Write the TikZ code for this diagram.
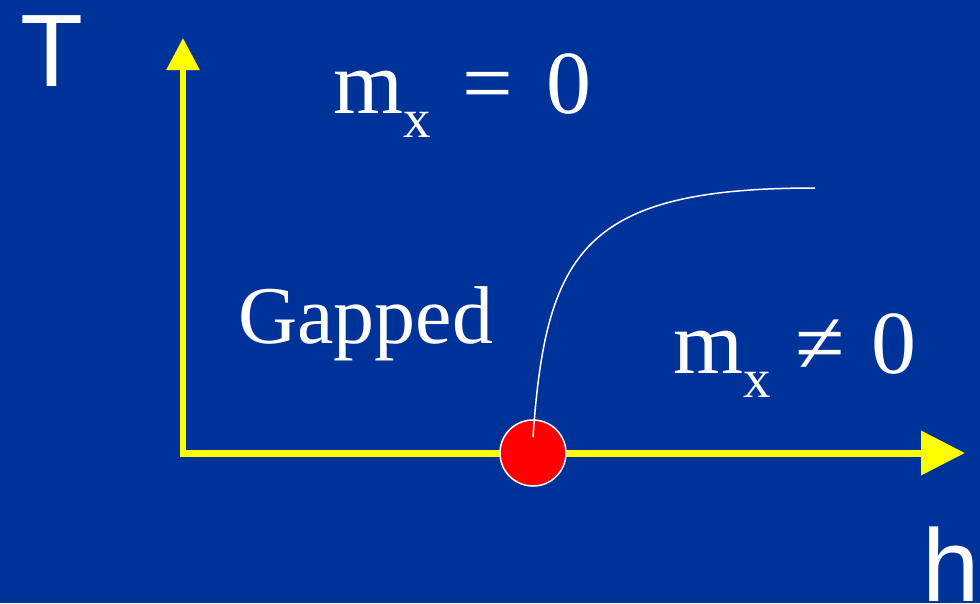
\documentclass[tikz,border=0pt]{standalone}
\usepackage{fontspec}
\setmainfont{Liberation Serif}
\newfontfamily\axfont{Liberation Sans}
\usetikzlibrary{arrows.meta}
\definecolor{bgblue}{HTML}{003399}
\definecolor{axyellow}{HTML}{FFFF00}
\tikzset{
  axisline/.style={draw=axyellow, line width=6pt},
  axlabel/.style={text=white, font=\axfont\fontsize{103}{103}\selectfont, inner sep=0pt, anchor=base west},
  serlabel/.style={text=white, inner sep=0pt, anchor=base west},
  critpt/.style={circle, fill=red, draw=white, line width=1.5pt, minimum size=66pt, inner sep=0pt},
}
\newcommand{\subx}{\raisebox{-24pt}{\fontsize{55}{55}\selectfont x}}
\begin{document}
\begin{tikzpicture}[x=1pt,y=-1pt]
\fill[bgblue] (0,0) rectangle (980,603);
\useasboundingbox (0,0) rectangle (980,603);
\coordinate (O) at (183,453);
\coordinate (Ttip) at (183,38);
\coordinate (Htip) at (965,453);
\draw[axisline, -{Triangle[length=32pt,width=32pt]}] (183,456) -- (Ttip);
\draw[axisline, line width=7pt, -{Triangle[length=44pt,width=43pt]}] (180,453) -- (Htip);
\node[critpt] (qcp) at (533,453) {};
\coordinate (cstart) at (533,437);
\coordinate (cend) at (815,188);
\draw[white, line width=1.5pt] (cstart) .. controls (546,250) and (585,188) .. (cend);
\node[axlabel] (Tl) at (20,86) {T};
\node[axlabel] (hl) at (922,601) {h};
\node[serlabel, font=\fontsize{82}{82}\selectfont] (gap) at (238,343) {Gapped};
\node[serlabel, font=\fontsize{90}{90}\selectfont] (m0) at (333,113) {m\subx\hspace{32pt}=\hspace{33pt}0};
\node[serlabel, font=\fontsize{90}{90}\selectfont] (m1) at (673,373) {m\subx\hspace{25pt}≠\hspace{26pt}0};
\end{tikzpicture}
\end{document}
